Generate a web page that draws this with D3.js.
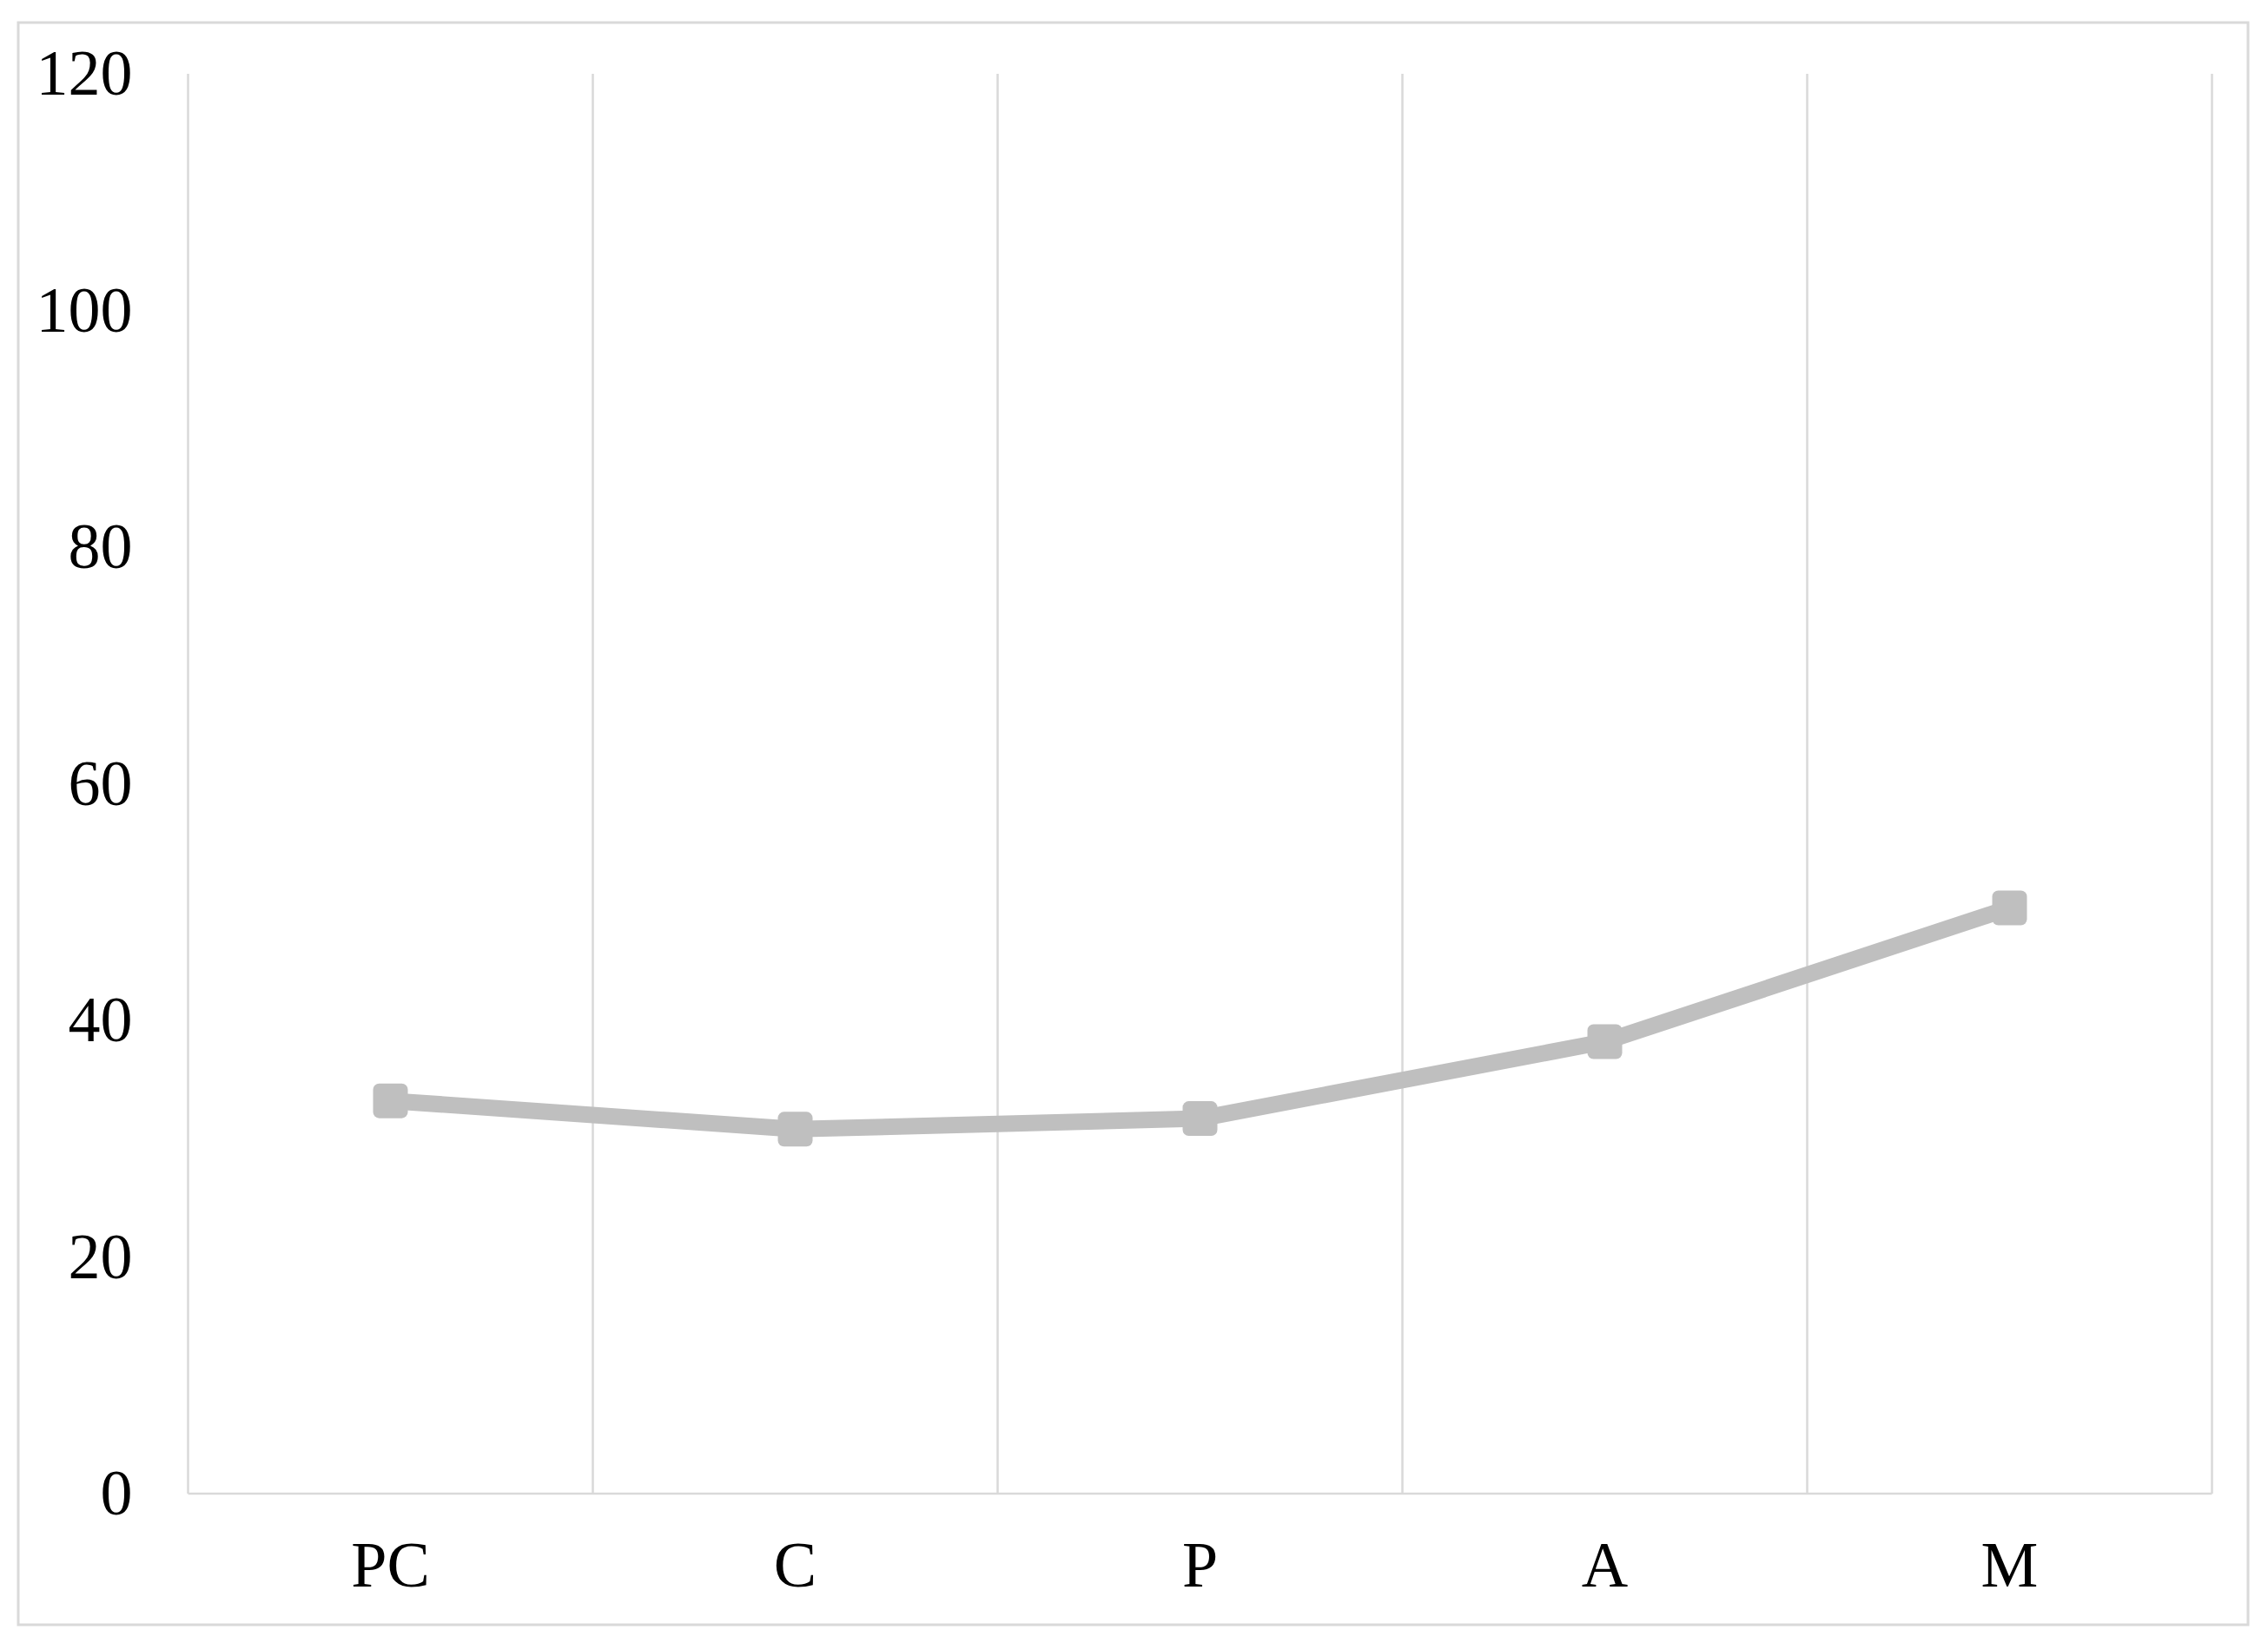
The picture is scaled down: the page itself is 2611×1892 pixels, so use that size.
<!DOCTYPE html>
<html><head><meta charset="utf-8">
<script src="https://cdn.jsdelivr.net/npm/d3@7"></script>
<style>html,body{margin:0;padding:0;background:#fff;}</style>
</head><body>
<script>
const categories = ["PC", "C", "P", "A", "M"];
const values = [33.2, 30.8, 31.7, 38.2, 49.5];
const yTicks = [0, 20, 40, 60, 80, 100, 120];

const W = 2611, H = 1892;
const m = {left: 216.5, right: 2546.5, top: 85, bottom: 1720};
const svg = d3.select("body").append("svg").attr("width", W).attr("height", H);
svg.append("rect").attr("width", W).attr("height", H).attr("fill", "#fff");
svg.append("rect").attr("x", 21).attr("y", 26).attr("width", 2567).attr("height", 1845)
  .attr("fill", "none").attr("stroke", "#d9d9d9").attr("stroke-width", 3);

const x = d3.scaleBand().domain(categories).range([m.left, m.right]).paddingInner(0).paddingOuter(0);
const y = d3.scaleLinear().domain([0, 120]).range([m.bottom, m.top]);

// vertical gridlines at band boundaries
const bounds = categories.map(c => x(c)).concat([x(categories[categories.length-1]) + x.bandwidth()]);
svg.append("g").selectAll("line").data(bounds).join("line")
  .attr("x1", d => d).attr("x2", d => d).attr("y1", m.top).attr("y2", m.bottom)
  .attr("stroke", "#d9d9d9").attr("stroke-width", 2.5);
// bottom axis line
svg.append("line").attr("x1", m.left).attr("x2", m.right).attr("y1", m.bottom).attr("y2", m.bottom)
  .attr("stroke", "#d9d9d9").attr("stroke-width", 2.5);

// y axis labels
const yAxis = d3.axisLeft(y).tickValues(yTicks).tickSize(0).tickPadding(64);
const gy = svg.append("g").attr("transform", `translate(${m.left},0)`).call(yAxis);
gy.select(".domain").remove();
gy.selectAll("text").attr("font-family", "'Liberation Serif', 'Times New Roman', serif")
  .attr("font-size", 74).attr("fill", "#000");

// x axis labels
const xAxis = d3.axisBottom(x).tickSize(0).tickPadding(54);
const gx = svg.append("g").attr("transform", `translate(0,${m.bottom})`).call(xAxis);
gx.select(".domain").remove();
gx.selectAll("text").attr("font-family", "'Liberation Serif', 'Times New Roman', serif")
  .attr("font-size", 74).attr("fill", "#000");

const cx = c => x(c) + x.bandwidth() / 2;
const data = categories.map((c, i) => ({c, v: values[i]}));
const line = d3.line().x(d => cx(d.c)).y(d => y(d.v));
svg.append("path").datum(data).attr("d", line).attr("fill", "none")
  .attr("stroke", "#bfbfbf").attr("stroke-width", 19).attr("stroke-linejoin", "round");
const ms = 40;
svg.append("g").selectAll("rect").data(data).join("rect")
  .attr("x", d => cx(d.c) - ms/2).attr("y", d => y(d.v) - ms/2)
  .attr("width", ms).attr("height", ms).attr("rx", 7).attr("ry", 7)
  .attr("fill", "#bfbfbf");
</script>
</body></html>
